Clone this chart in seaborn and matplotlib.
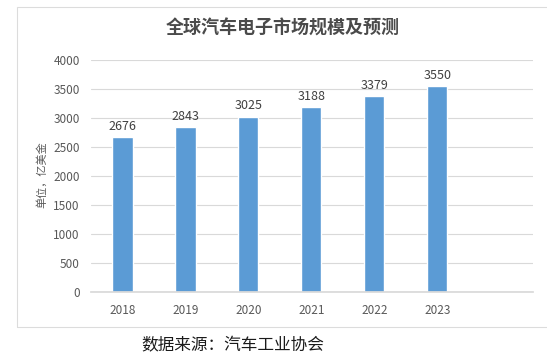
import matplotlib
matplotlib.use("Agg")
import matplotlib.pyplot as plt
import seaborn as sns
import pandas as pd
from matplotlib.patches import Rectangle

years = ["2018", "2019", "2020", "2021", "2022", "2023"]
values = [2676, 2843, 3025, 3188, 3379, 3550]
yticks = [0, 500, 1000, 1500, 2000, 2500, 3000, 3500, 4000]

sns.set_theme(style="white")
plt.rcParams['font.family'] = ['Noto Sans CJK SC', 'DejaVu Sans']

df = pd.DataFrame({"year": years, "value": values})

fig = plt.figure(figsize=(5.47, 3.64), dpi=100)
# light frame around the chart area
fig.patches.append(Rectangle((17 / 547, 1 - 327 / 364), 540 / 547, 320 / 364,
                             transform=fig.transFigure, fill=False,
                             edgecolor="#dcdcdc", linewidth=0.8))

ax = fig.add_axes([91 / 547, 1 - 292 / 364, 442 / 547, 232 / 364])
sns.barplot(data=df, x="year", y="value", color="#5B9BD5", saturation=1,
            width=0.32, ax=ax)

ax.set_xlim(-0.5, 6.52)
ax.set_ylim(0, 4000)
ax.set_yticks(yticks)
ax.yaxis.grid(True, color="#d9d9d9", linewidth=0.8)
ax.set_axisbelow(True)
for s in ["top", "right", "left"]:
    ax.spines[s].set_visible(False)
ax.spines["bottom"].set_color("#d9d9d9")
ax.tick_params(axis="both", length=0, labelsize=8.5, colors="#595959")
ax.tick_params(axis="x", pad=9)
ax.tick_params(axis="y", pad=8)
ax.set_xlabel("")
ax.set_ylabel("")

for i, v in enumerate(values):
    ax.text(i, v + 70, str(v), ha="center", va="bottom", fontsize=9, color="#404040")

fig.text(42 / 547, 1 - 175 / 364, "单位，亿美金", rotation=90, ha="center", va="center",
         fontsize=8, color="#595959", style="italic")
fig.text(283 / 547, 1 - 28 / 364, "全球汽车电子市场规模及预测", ha="center", va="center",
         fontsize=13, fontweight="bold", color="#4a4a4a")
fig.text(233 / 547, 1 - 346 / 364, "数据来源：汽车工业协会", ha="center", va="center",
         fontsize=12, color="#1a1a1a")

fig.savefig("out.png", dpi=100)
